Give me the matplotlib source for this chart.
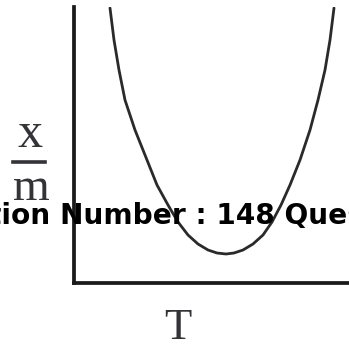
import matplotlib.pyplot as plt

# curve (T across, x/m up), arbitrary units
temp = [36, 40, 45, 51, 61, 73, 83, 94, 104, 114, 124, 134, 143, 152,
        160, 169, 179, 189, 198, 207, 216, 226, 236, 244, 251, 256, 260]
ads = [275, 243, 213, 183, 153, 123, 98, 78, 61, 48, 39, 33, 30, 29,
       30, 33, 39, 48, 61, 78, 98, 123, 153, 183, 213, 243, 275]

x_label_top = 'x'
x_label_bottom = 'm'
t_label = 'T'
banner = 'tion Number : 148 Ques'

W, H = 349, 346
fig = plt.figure(figsize=(W / 100, H / 100), dpi=100)
ax = fig.add_axes([74 / W, (H - 283) / H, (W - 74) / W + 0.02, (283 - 7) / H])
ax.plot(temp, ads, color='#2a2a2a', lw=2.0, solid_capstyle='round',
        solid_joinstyle='round')
ax.set_xlim(0, 275 * (1 + 0.02 * W / (W - 74)))
ax.set_ylim(0, 276)
for side in ['top', 'right']:
    ax.spines[side].set_visible(False)
for side in ['left', 'bottom']:
    ax.spines[side].set_linewidth(2.7)
    ax.spines[side].set_color('#1a1a1a')
ax.set_xticks([])
ax.set_yticks([])

serif = 'Liberation Serif'
fig.text(30 / W, 1 - 147 / H, x_label_top, family=serif, fontsize=36,
         color='#333338', ha='center', va='baseline')
fig.add_artist(plt.Line2D([13 / W, 45 / W], [1 - 162 / H, 1 - 162 / H],
                          color='#333338', lw=2.6))
fig.text(31 / W, 1 - 200 / H, x_label_bottom, family=serif, fontsize=34,
         color='#333338', ha='center', va='baseline')
fig.text(178 / W, 1 - 339 / H, t_label, family=serif, fontsize=32,
         color='#333338', ha='center', va='baseline')

fig.text(-12 / W, 1 - 224 / H, banner, family='DejaVu Sans', weight='bold',
         fontsize=20.2, color='black', ha='left', va='baseline', zorder=10)

fig.savefig('out.png', dpi=100)
